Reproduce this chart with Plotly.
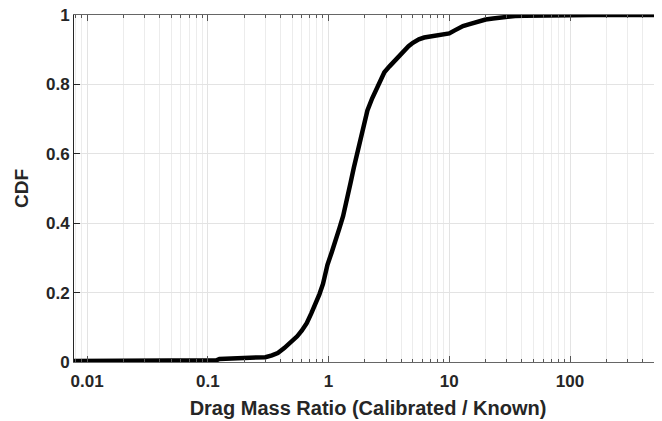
import plotly.graph_objects as go

ratio = [0.0078, 0.02, 0.04, 0.058, 0.062, 0.1, 0.118, 0.125, 0.2, 0.25, 0.3, 0.34,
         0.38, 0.43, 0.49, 0.55, 0.6, 0.66, 0.72, 0.78, 0.84, 0.9, 0.98, 1.06, 1.15,
         1.23, 1.32, 1.42, 1.52, 1.62, 1.72, 1.82, 1.95, 2.1, 2.3, 2.5, 2.7, 2.9, 3.2,
         3.5, 3.8, 4.2, 4.6, 5.0, 5.6, 6.2, 7.0, 8.0, 9.0, 10.0, 11.0, 12.0, 13.0,
         14.5, 16, 18, 20, 23, 26, 30, 35, 42, 55, 75, 100, 150, 250, 400, 600]
cdf = [0.003, 0.003, 0.003, 0.003, 0.005, 0.005, 0.005, 0.009, 0.010, 0.011, 0.014, 0.019,
       0.026, 0.040, 0.056, 0.074, 0.090, 0.112, 0.140, 0.165, 0.195, 0.225, 0.280, 0.315,
       0.350, 0.385, 0.420, 0.465, 0.515, 0.560, 0.600, 0.640, 0.680, 0.725, 0.760, 0.790,
       0.815, 0.835, 0.852, 0.867, 0.882, 0.897, 0.910, 0.920, 0.930, 0.935, 0.938, 0.940,
       0.943, 0.947, 0.955, 0.963, 0.968, 0.973, 0.978, 0.984, 0.987, 0.990, 0.993, 0.995,
       0.997, 0.998, 0.999, 0.999, 1.0, 1.0, 1.0, 1.0, 1.0]

xticks = [0.01, 0.1, 1, 10, 100]
xticklabels = ["0.01", "0.1", "1", "10", "100"]
yticks = [0, 0.2, 0.4, 0.6, 0.8, 1]
yticklabels = ["0", "0.2", "0.4", "0.6", "0.8", "1"]

txt = "#262626"
fnt = dict(family="Liberation Sans, Arial, sans-serif", color=txt, weight="bold")

fig = go.Figure()
fig.add_trace(go.Scatter(x=ratio, y=cdf, mode="lines",
                         line=dict(color="black", width=4.5), showlegend=False))

# page body has an 8px margin, so the figure is sized/offset to compensate
fig.update_layout(
    width=654, height=413,
    margin=dict(l=66, r=0, t=7, b=59),
    plot_bgcolor="white", paper_bgcolor="white",
    font=fnt,
)
fig.update_xaxes(
    type="log", range=[-2.108, 2.762], automargin=False,
    tickvals=xticks, ticktext=xticklabels,
    tickfont=dict(size=17, **fnt),
    ticks="inside", ticklen=6, tickcolor="#555555",
    showline=True, linecolor="#666666", linewidth=1, mirror="ticks",
    showgrid=True, gridcolor="#e3e3e3", gridwidth=1,
    minor=dict(dtick="D1", ticks="inside", ticklen=3, tickcolor="#555555",
               showgrid=True, gridcolor="#ececec", gridwidth=1),
    ticklabelstandoff=4, ticklabeloverflow="allow",
    title=dict(text="Drag Mass Ratio (Calibrated / Known)", font=dict(size=20, **fnt),
               standoff=10),
    zeroline=False,
)
fig.update_yaxes(
    range=[0, 1], automargin=False,
    tickvals=yticks, ticktext=yticklabels,
    tickfont=dict(size=17, **fnt),
    ticks="inside", ticklen=6, tickcolor="#262626",
    showline=True, linecolor="#262626", linewidth=1,
    showgrid=True, gridcolor="#e3e3e3", gridwidth=1,
    ticklabelstandoff=0, ticklabeloverflow="allow",
    title=dict(text="CDF", font=dict(size=19, **fnt), standoff=12),
    zeroline=False,
)

fig.write_html("out.html")
